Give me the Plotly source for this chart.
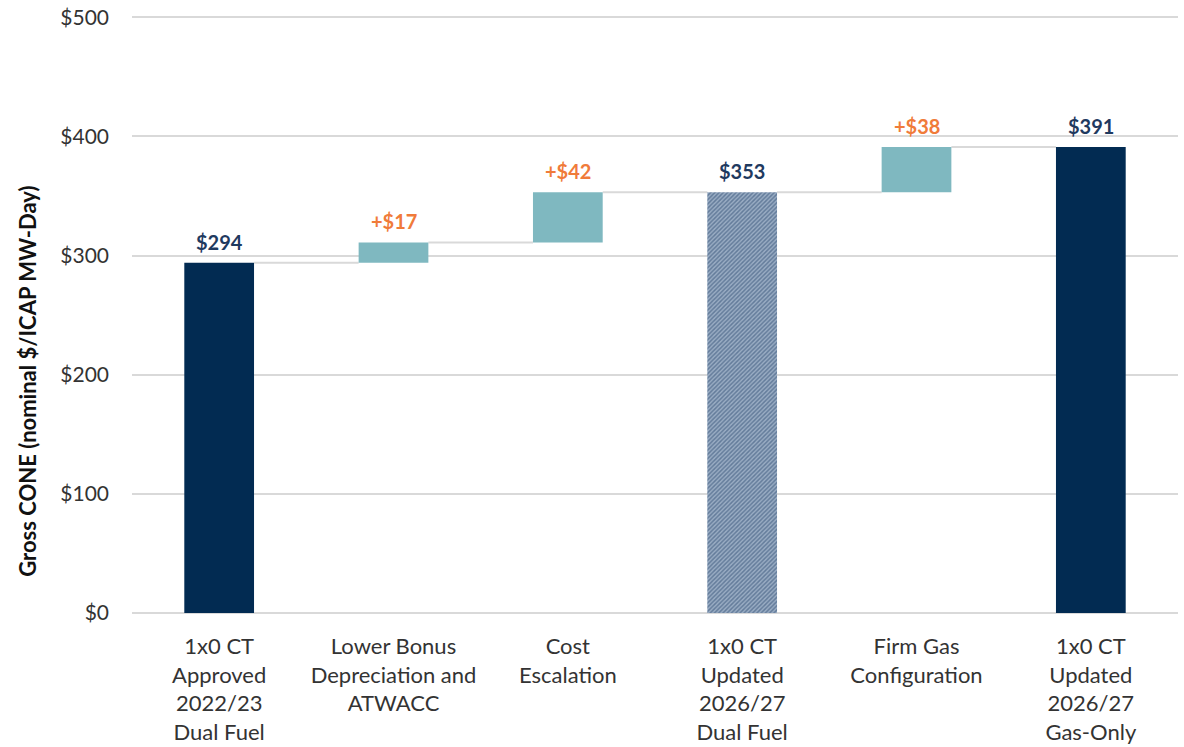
import plotly.graph_objects as go

categories = [
    "1x0 CT<br>Approved<br>2022/23<br>Dual Fuel",
    "Lower Bonus<br>Depreciation and<br>ATWACC",
    "Cost<br>Escalation",
    "1x0 CT<br>Updated<br>2026/27<br>Dual Fuel",
    "Firm Gas<br>Configuration",
    "1x0 CT<br>Updated<br>2026/27<br>Gas-Only",
]
measures = ["absolute", "relative", "relative", "total", "relative", "total"]
values = [294, 17, 42, 353, 38, 391]
labels = ["$294", "+$17", "+$42", "$353", "+$38", "$391"]

NAVY = "#022b52"
TEAL = "#7fb8c0"
ORANGE = "#f07b3a"
LABEL_NAVY = "#1f3a5f"
FONT = "Lato, Open Sans, sans-serif"

# compute bases and tops
bases, heights, tops = [], [], []
running = 0
for m, v in zip(measures, values):
    if m == "relative":
        bases.append(running)
        heights.append(v)
        running += v
    else:
        bases.append(0)
        heights.append(v)
        running = v
    tops.append(running)

xs = list(range(len(categories)))
width = 0.4

fig = go.Figure()

solid_idx = [i for i, m in enumerate(measures) if m == "absolute" or (m == "total" and i == len(measures) - 1)]
hatch_idx = [i for i, m in enumerate(measures) if m == "total" and i != len(measures) - 1]
rel_idx = [i for i, m in enumerate(measures) if m == "relative"]

fig.add_trace(go.Bar(
    x=[xs[i] for i in solid_idx], y=[heights[i] for i in solid_idx],
    base=[bases[i] for i in solid_idx], width=width,
    marker=dict(color=NAVY, line=dict(width=0)), hoverinfo="skip",
))
fig.add_trace(go.Bar(
    x=[xs[i] for i in rel_idx], y=[heights[i] for i in rel_idx],
    base=[bases[i] for i in rel_idx], width=width,
    marker=dict(color=TEAL, line=dict(width=0)), hoverinfo="skip",
))
fig.add_trace(go.Bar(
    x=[xs[i] for i in hatch_idx], y=[heights[i] for i in hatch_idx],
    base=[bases[i] for i in hatch_idx], width=width,
    marker=dict(color="#9aadc4", line=dict(width=0),
                pattern=dict(shape="/", fgcolor="#2c4a70", bgcolor="#9aadc4",
                             size=3, solidity=0.5)),
    hoverinfo="skip",
))

# connectors
for i in range(len(xs) - 1):
    fig.add_shape(type="line", xref="x", yref="y",
                  x0=xs[i] + width / 2, x1=xs[i + 1] - width / 2,
                  y0=tops[i], y1=tops[i],
                  line=dict(color="#d9d9d9", width=2), layer="below")

# data labels
for i in xs:
    color = ORANGE if measures[i] == "relative" else LABEL_NAVY
    fig.add_annotation(x=xs[i], y=tops[i], text="<b>" + labels[i] + "</b>",
                       showarrow=False, yanchor="bottom", yshift=7,
                       font=dict(family=FONT, size=20, color=color))

fig.add_annotation(xref="paper", yref="paper", x=-0.1, y=0.388,
                   text="<b>Gross CONE (nominal $/ICAP MW-Day)</b>",
                   textangle=-90, showarrow=False, xanchor="center", yanchor="middle",
                   font=dict(family=FONT, size=22, color="#111111"))

fig.update_layout(
    width=1184, height=747,
    margin=dict(l=132, r=6, t=16, b=134, autoexpand=False),
    paper_bgcolor="white", plot_bgcolor="white",
    showlegend=False, barmode="overlay",
    font=dict(family=FONT, color="#404040"),
    xaxis=dict(
        tickmode="array", tickvals=xs, ticktext=categories,
        range=[-0.5, len(xs) - 0.5], automargin=False,
        showgrid=False, showline=False, zeroline=False, ticks="",
        ticklabelstandoff=18,
        tickfont=dict(family=FONT, size=22, color="#333333"),
    ),
    yaxis=dict(
        range=[0, 501], dtick=100, tickprefix="$", automargin=False,
        showgrid=True, gridcolor="#d9d9d9", gridwidth=2,
        zeroline=True, zerolinecolor="#d9d9d9", zerolinewidth=2,
        showline=False, ticks="", ticklabelstandoff=22,
        tickfont=dict(family=FONT, size=21, color="#333333"),
    ),
)

fig.write_html("out.html")
